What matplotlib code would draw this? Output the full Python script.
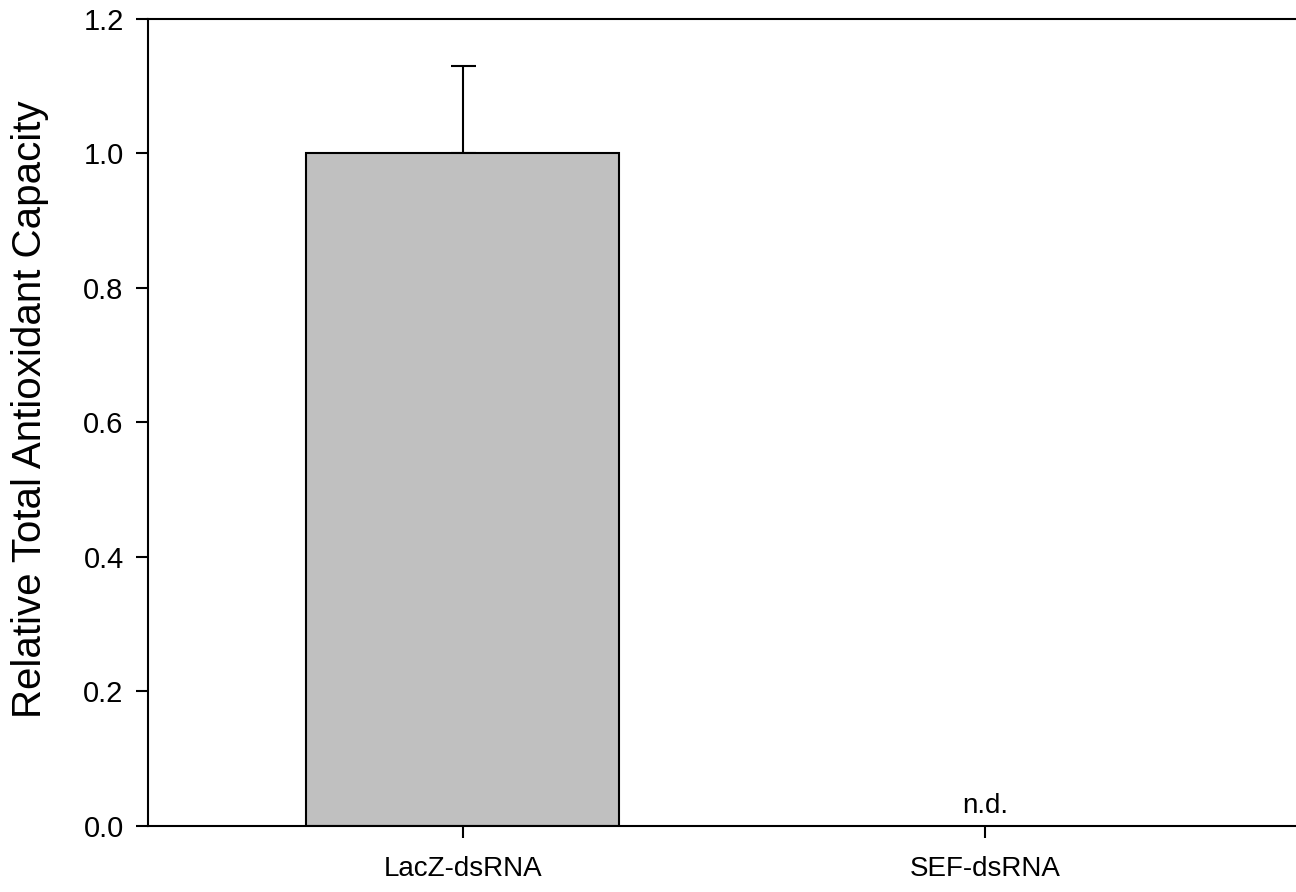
import numpy as np
import matplotlib
matplotlib.use('Agg')
import matplotlib.pyplot as plt

plt.rcParams['font.family'] = ['Liberation Sans', 'DejaVu Sans']

# 数据
groups = ['LacZ-dsRNA', 'SEF-dsRNA']
values = [1.0, np.nan]
errors = [0.13, np.nan]
nd_label = 'n.d.'
yticks = [0.0, 0.2, 0.4, 0.6, 0.8, 1.0, 1.2]

fig = plt.figure(figsize=(12.96, 8.92), dpi=100)
ax = fig.add_axes([0.1142, 0.074, 0.8858, 0.9047])

x = np.arange(len(groups))
ax.bar(x, values, width=0.6, color='#c0c0c0', edgecolor='black', linewidth=1.5, zorder=2)

# 只画上方误差线
ax.errorbar(x, values, yerr=[np.zeros(len(groups)), errors], fmt='none',
            ecolor='black', elinewidth=1.5, capsize=9, capthick=1.5, zorder=1)

# 没有检测到的组
for i, v in enumerate(values):
    if np.isnan(v):
        ax.annotate(nd_label, (x[i], 0), xytext=(0, 5), textcoords='offset points',
                    ha='center', va='bottom', fontsize=20)

ax.set_xlim(-0.603, 1.596)
ax.set_ylim(0, 1.2)
ax.set_xticks(x)
ax.set_xticklabels(groups)
ax.set_yticks(yticks)
ax.set_yticklabels(['%.1f' % t for t in yticks])
ax.set_ylabel('Relative Total Antioxidant Capacity', fontsize=29)
ax.yaxis.set_label_coords(-0.086, 0.517)

ax.tick_params(axis='both', direction='out', length=8.5, width=1.5, labelsize=21)
ax.tick_params(axis='y', pad=9)
ax.tick_params(axis='x', pad=13, labelsize=20)
for s in ['left', 'bottom', 'top']:
    ax.spines[s].set_linewidth(1.5)
ax.spines['right'].set_visible(False)

fig.savefig('out.png', dpi=100)
